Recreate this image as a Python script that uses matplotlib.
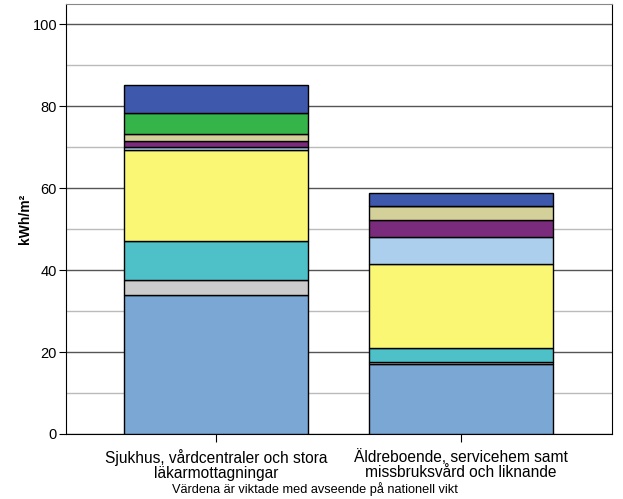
import matplotlib

matplotlib.use("Agg")
import matplotlib.pyplot as plt
import numpy as np

plt.rcParams["font.family"] = ["Liberation Sans", "DejaVu Sans"]

CATEGORIES = [
    "Sjukhus, vårdcentraler och stora\nläkarmottagningar",
    "Äldreboende, servicehem samt\nmissbruksvård och liknande",
]
# stacked segments, bottom to top (kWh/m²)
SEG_COLORS = ["#7BA7D4", "#CCCCCC", "#4DC0C8", "#FAF774", "#ADCFEE",
              "#7B2B7B", "#D4D09A", "#35B44A", "#3E58AC"]
SEG_VALUES = [
    [33.9, 3.75, 9.45, 22.2, 0.8, 1.5, 1.7, 5.1, 6.9],
    [17.2, 0.4, 3.35, 20.55, 6.5, 4.3, 3.3, 0.0, 3.25],
]
FOOTNOTE = "Värdena är viktade med avseende på nationell vikt"

fig = plt.figure(figsize=(6.23, 4.99), dpi=100)
ax = fig.add_axes([0.106, 0.1303, 0.876, 0.862])

x = np.arange(len(CATEGORIES))
vals = np.array(SEG_VALUES)
bottom = np.zeros(len(CATEGORIES))
for i, color in enumerate(SEG_COLORS):
    h = vals[:, i]
    ax.bar(x, h, width=0.75, bottom=bottom, color=color,
           edgecolor="black", linewidth=1.0, zorder=3)
    bottom += h

ax.set_xlim(-0.612, 1.616)
ax.set_ylim(0, 105)
ax.set_yticks([0, 20, 40, 60, 80, 100])
ax.set_yticks([10, 30, 50, 70, 90], minor=True)
ax.grid(axis="y", which="major", color="#555555", linewidth=1.0, zorder=0)
ax.grid(axis="y", which="minor", color="#BBBBBB", linewidth=1.0, zorder=0)
ax.tick_params(axis="y", which="major", length=5, labelsize=10.5, pad=1.5)
ax.tick_params(axis="y", which="minor", length=0)
ax.set_xticks(x)
ax.set_xticklabels(CATEGORIES, fontsize=11.2, linespacing=0.95)
ax.tick_params(axis="x", length=6, pad=5)
ax.set_ylabel("kWh/m²", fontsize=10, fontweight="bold", labelpad=0)

for side in ("left", "bottom", "right"):
    ax.spines[side].set_color("black")
ax.spines["top"].set_color("#888888")

fig.text(0.505, 0.006, FOOTNOTE, ha="center", va="bottom", fontsize=9.2)

fig.savefig("out.png", dpi=100)
